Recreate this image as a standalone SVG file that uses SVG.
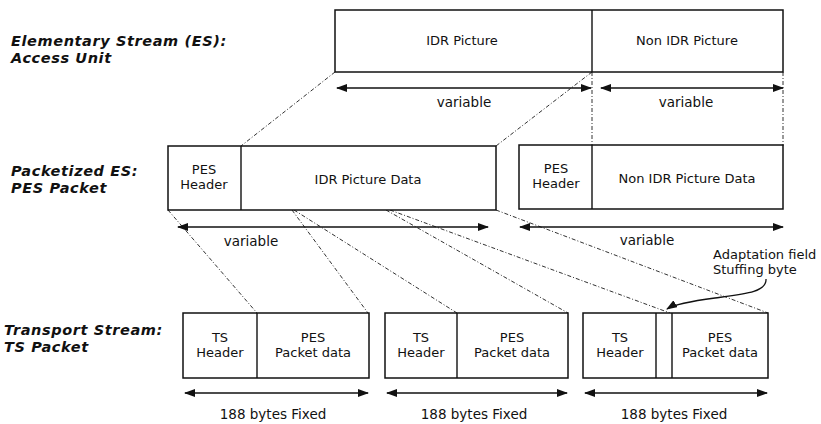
<svg xmlns="http://www.w3.org/2000/svg" width="821" height="424" viewBox="0 0 821 424">
<defs>
<marker id="ah" markerUnits="userSpaceOnUse" markerWidth="11" markerHeight="8" refX="10" refY="4" orient="auto-start-reverse">
<path d="M0,0 L11,4 L0,8 z" fill="#111"/>
</marker>
<style>
.box{fill:#fff;stroke:#111;stroke-width:1.5}
.div{stroke:#111;stroke-width:1.4;fill:none}
.t{font-family:"DejaVu Sans",Verdana,sans-serif;font-size:13px;fill:#111;text-anchor:middle}
.ttl{font-family:"DejaVu Sans",Verdana,sans-serif;font-size:14.5px;font-weight:bold;font-style:italic;fill:#111;letter-spacing:0.6px}
.dim{stroke:#111;stroke-width:1.4;fill:none;marker-start:url(#ah);marker-end:url(#ah)}
.dash{stroke:#333;stroke-width:1;fill:none;stroke-dasharray:4 2 1 2}
</style>
</defs>
<rect width="821" height="424" fill="#fff"/>

<g id="titles">
<text class="ttl" x="11" y="46">Elementary Stream (ES):</text>
<text class="ttl" x="11" y="63">Access Unit</text>
<text class="ttl" x="11" y="176">Packetized ES:</text>
<text class="ttl" x="11" y="193">PES Packet</text>
<text class="ttl" x="4" y="335">Transport Stream:</text>
<text class="ttl" x="4" y="352">TS Packet</text>
</g>

<g id="connectors">
<line class="dash" x1="335" y1="72" x2="241" y2="146"/>
<line class="dash" x1="592" y1="72" x2="496" y2="146"/>
<line class="dash" x1="592" y1="72" x2="592" y2="146"/>
<line class="dash" x1="783" y1="72" x2="783" y2="146"/>
<line class="dash" x1="168" y1="210" x2="257" y2="313"/>
<line class="dash" x1="292" y1="210" x2="368" y2="313"/>
<line class="dash" x1="294" y1="210" x2="457" y2="313"/>
<line class="dash" x1="386" y1="210" x2="568" y2="313"/>
<line class="dash" x1="390" y1="210" x2="670" y2="313"/>
<line class="dash" x1="496" y1="210" x2="768" y2="313"/>
<path d="M766,279 C767,292 745,294 715,298 C692,301 675,304 667,309" fill="none" stroke="#111" stroke-width="1.3" marker-end="url(#ah)"/>
</g>

<g id="es-access-unit">
<rect class="box" x="335" y="10" width="448" height="62"/>
<line class="div" x1="592" y1="10" x2="592" y2="72"/>
<text class="t" x="462" y="45">IDR Picture</text>
<text class="t" x="687" y="45">Non IDR Picture</text>
<line class="dim" x1="337" y1="88" x2="591" y2="88"/>
<line class="dim" x1="601" y1="88" x2="783" y2="88"/>
<text class="t" x="464" y="107" style="font-size:13.5px">variable</text>
<text class="t" x="686" y="107" style="font-size:13.5px">variable</text>
</g>

<g id="pes-packet-1">
<rect class="box" x="168" y="146" width="328" height="64"/>
<line class="div" x1="241" y1="146" x2="241" y2="210"/>
<text class="t" x="204" y="174">PES</text>
<text class="t" x="204" y="189">Header</text>
<text class="t" x="368" y="184">IDR Picture Data</text>
<line class="dim" x1="178" y1="227" x2="488" y2="227"/>
<text class="t" x="251" y="246" style="font-size:13.5px">variable</text>
</g>

<g id="pes-packet-2">
<rect class="box" x="519" y="145" width="264" height="64"/>
<line class="div" x1="592" y1="145" x2="592" y2="209"/>
<text class="t" x="556" y="173">PES</text>
<text class="t" x="556" y="188">Header</text>
<text class="t" x="687" y="183">Non IDR Picture Data</text>
<line class="dim" x1="520" y1="227" x2="783" y2="227"/>
<text class="t" x="647" y="245" style="font-size:13.5px">variable</text>
</g>

<g id="adaptation-label">
<text class="t" x="713" y="259" style="text-anchor:start">Adaptation field</text>
<text class="t" x="713" y="274" style="text-anchor:start">Stuffing byte</text>
</g>

<g id="ts-packet-1">
<rect class="box" x="183" y="313" width="186" height="65"/>
<line class="div" x1="257" y1="313" x2="257" y2="378"/>
<text class="t" x="220" y="342">TS</text>
<text class="t" x="220" y="357">Header</text>
<text class="t" x="313" y="342">PES</text>
<text class="t" x="313" y="357">Packet data</text>
<line class="dim" x1="185" y1="393" x2="368" y2="393"/>
<text class="t" x="273" y="419" style="font-size:13.5px">188 bytes Fixed</text>
</g>

<g id="ts-packet-2">
<rect class="box" x="385" y="313" width="183" height="65"/>
<line class="div" x1="457" y1="313" x2="457" y2="378"/>
<text class="t" x="421" y="342">TS</text>
<text class="t" x="421" y="357">Header</text>
<text class="t" x="512" y="342">PES</text>
<text class="t" x="512" y="357">Packet data</text>
<line class="dim" x1="387" y1="393" x2="567" y2="393"/>
<text class="t" x="474" y="419" style="font-size:13.5px">188 bytes Fixed</text>
</g>

<g id="ts-packet-3">
<rect class="box" x="583" y="313" width="185" height="65"/>
<line class="div" x1="656" y1="313" x2="656" y2="378"/>
<line class="div" x1="672" y1="313" x2="672" y2="378"/>
<text class="t" x="620" y="342">TS</text>
<text class="t" x="620" y="357">Header</text>
<text class="t" x="720" y="342">PES</text>
<text class="t" x="720" y="357">Packet data</text>
<line class="dim" x1="585" y1="393" x2="767" y2="393"/>
<text class="t" x="674" y="419" style="font-size:13.5px">188 bytes Fixed</text>
</g>
</svg>
